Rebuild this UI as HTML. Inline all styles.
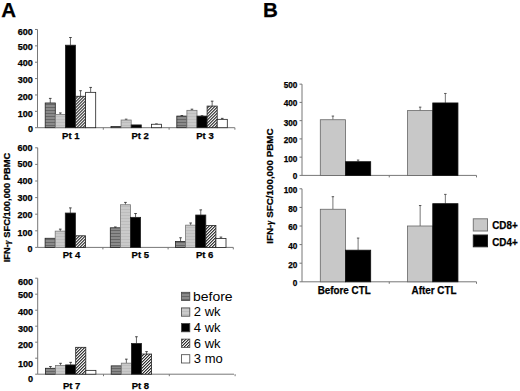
<!DOCTYPE html>
<html><head><meta charset="utf-8"><style>
html,body{margin:0;padding:0;background:#fff;}
svg{display:block;font-family:"Liberation Sans",sans-serif;}
text[font-weight="bold"]{stroke:#000;stroke-width:0.25px;}
</style></head><body>
<svg width="520" height="391" viewBox="0 0 520 391">
<defs>
<pattern id="pBefore" width="3" height="3" patternUnits="userSpaceOnUse">
<rect width="3" height="3" fill="#8a8a8a"/>
<rect y="2" width="3" height="1" fill="#666"/>
</pattern>
<pattern id="p2wk" width="3" height="3" patternUnits="userSpaceOnUse">
<rect width="3" height="3" fill="#cacaca"/>
<rect y="2" width="3" height="1" fill="#bdbdbd"/>
</pattern>
<pattern id="pHatch" width="2.12" height="2.12" patternUnits="userSpaceOnUse" patternTransform="rotate(45)">
<rect width="2.12" height="2.12" fill="#fff"/>
<rect width="0.9" height="2.12" fill="#000"/>
</pattern>
</defs>
<rect width="520" height="391" fill="#fff"/>
<text x="1.3" y="16.6" font-size="20.5" font-weight="bold">A</text>
<text x="263.0" y="16.8" font-size="20.5" font-weight="bold">B</text>
<line x1="37.5" y1="29.480000000000004" x2="37.5" y2="127.7" stroke="#777" stroke-width="1"/>
<line x1="35.0" y1="127.7" x2="37.5" y2="127.7" stroke="#777" stroke-width="1"/>
<text x="32.9" y="132.322" font-size="9" font-weight="bold" text-anchor="end">0</text>
<line x1="35.0" y1="111.33" x2="37.5" y2="111.33" stroke="#777" stroke-width="1"/>
<text x="32.9" y="116.52199999999999" font-size="9" font-weight="bold" text-anchor="end">100</text>
<line x1="35.0" y1="94.96000000000001" x2="37.5" y2="94.96000000000001" stroke="#777" stroke-width="1"/>
<text x="32.9" y="100.122" font-size="9" font-weight="bold" text-anchor="end">200</text>
<line x1="35.0" y1="78.59" x2="37.5" y2="78.59" stroke="#777" stroke-width="1"/>
<text x="32.9" y="83.222" font-size="9" font-weight="bold" text-anchor="end">300</text>
<line x1="35.0" y1="62.22" x2="37.5" y2="62.22" stroke="#777" stroke-width="1"/>
<text x="32.9" y="66.422" font-size="9" font-weight="bold" text-anchor="end">400</text>
<line x1="35.0" y1="45.849999999999994" x2="37.5" y2="45.849999999999994" stroke="#777" stroke-width="1"/>
<text x="32.9" y="49.922000000000004" font-size="9" font-weight="bold" text-anchor="end">500</text>
<line x1="35.0" y1="29.480000000000004" x2="37.5" y2="29.480000000000004" stroke="#777" stroke-width="1"/>
<text x="32.9" y="34.822" font-size="9" font-weight="bold" text-anchor="end">600</text>
<line x1="37.5" y1="127.7" x2="234.8" y2="127.7" stroke="#777" stroke-width="1"/>
<line x1="103.3" y1="127.7" x2="103.3" y2="129.7" stroke="#777" stroke-width="1"/>
<line x1="169.1" y1="127.7" x2="169.1" y2="129.7" stroke="#777" stroke-width="1"/>
<line x1="234.89999999999998" y1="127.7" x2="234.89999999999998" y2="129.7" stroke="#777" stroke-width="1"/>
<line x1="50.25" y1="98.3977" x2="50.25" y2="102.9813" stroke="#555" stroke-width="0.9"/>
<line x1="48.95" y1="98.3977" x2="51.55" y2="98.3977" stroke="#333" stroke-width="0.9"/>
<rect x="45.20" y="102.98" width="10.10" height="24.72" fill="url(#pBefore)" stroke="#222" stroke-width="0.8"/>
<line x1="60.35" y1="112.967" x2="60.35" y2="114.44030000000001" stroke="#555" stroke-width="0.9"/>
<line x1="59.050000000000004" y1="112.967" x2="61.65" y2="112.967" stroke="#333" stroke-width="0.9"/>
<rect x="55.30" y="114.44" width="10.10" height="13.26" fill="url(#p2wk)" stroke="#777" stroke-width="0.8"/>
<line x1="70.45" y1="37.5013" x2="70.45" y2="45.195199999999986" stroke="#555" stroke-width="0.9"/>
<line x1="69.15" y1="37.5013" x2="71.75" y2="37.5013" stroke="#333" stroke-width="0.9"/>
<rect x="65.40" y="45.20" width="10.10" height="82.50" fill="#000" stroke="#222" stroke-width="0.8"/>
<line x1="80.55" y1="90.7038" x2="80.55" y2="96.2696" stroke="#555" stroke-width="0.9"/>
<line x1="79.25" y1="90.7038" x2="81.85" y2="90.7038" stroke="#333" stroke-width="0.9"/>
<rect x="75.50" y="96.27" width="10.10" height="31.43" fill="url(#pHatch)" stroke="#222" stroke-width="0.8"/>
<line x1="90.64999999999999" y1="87.4298" x2="90.64999999999999" y2="92.3408" stroke="#555" stroke-width="0.9"/>
<line x1="89.35" y1="87.4298" x2="91.94999999999999" y2="87.4298" stroke="#333" stroke-width="0.9"/>
<rect x="85.60" y="92.34" width="10.10" height="35.36" fill="#fff" stroke="#222" stroke-width="0.8"/>
<rect x="111.00" y="126.55" width="10.10" height="1.15" fill="url(#pBefore)" stroke="#222" stroke-width="0.8"/>
<line x1="126.14999999999999" y1="119.1876" x2="126.14999999999999" y2="120.0061" stroke="#555" stroke-width="0.9"/>
<line x1="124.85" y1="119.1876" x2="127.44999999999999" y2="119.1876" stroke="#333" stroke-width="0.9"/>
<rect x="121.10" y="120.01" width="10.10" height="7.69" fill="url(#p2wk)" stroke="#777" stroke-width="0.8"/>
<rect x="131.20" y="124.92" width="10.10" height="2.78" fill="#000" stroke="#222" stroke-width="0.8"/>
<line x1="156.45000000000002" y1="123.9349" x2="156.45000000000002" y2="124.2623" stroke="#555" stroke-width="0.9"/>
<line x1="155.15" y1="123.9349" x2="157.75000000000003" y2="123.9349" stroke="#333" stroke-width="0.9"/>
<rect x="151.40" y="124.26" width="10.10" height="3.44" fill="#fff" stroke="#222" stroke-width="0.8"/>
<line x1="181.85" y1="115.5862" x2="181.85" y2="116.07730000000001" stroke="#555" stroke-width="0.9"/>
<line x1="180.54999999999998" y1="115.5862" x2="183.15" y2="115.5862" stroke="#333" stroke-width="0.9"/>
<rect x="176.80" y="116.08" width="10.10" height="11.62" fill="url(#pBefore)" stroke="#222" stroke-width="0.8"/>
<line x1="191.95" y1="109.2019" x2="191.95" y2="110.3478" stroke="#555" stroke-width="0.9"/>
<line x1="190.64999999999998" y1="109.2019" x2="193.25" y2="109.2019" stroke="#333" stroke-width="0.9"/>
<rect x="186.90" y="110.35" width="10.10" height="17.35" fill="url(#p2wk)" stroke="#777" stroke-width="0.8"/>
<line x1="202.04999999999998" y1="115.7499" x2="202.04999999999998" y2="116.07730000000001" stroke="#555" stroke-width="0.9"/>
<line x1="200.74999999999997" y1="115.7499" x2="203.35" y2="115.7499" stroke="#333" stroke-width="0.9"/>
<rect x="197.00" y="116.08" width="10.10" height="11.62" fill="#000" stroke="#222" stroke-width="0.8"/>
<line x1="212.14999999999998" y1="101.1806" x2="212.14999999999998" y2="106.0916" stroke="#555" stroke-width="0.9"/>
<line x1="210.84999999999997" y1="101.1806" x2="213.45" y2="101.1806" stroke="#333" stroke-width="0.9"/>
<rect x="207.10" y="106.09" width="10.10" height="21.61" fill="url(#pHatch)" stroke="#222" stroke-width="0.8"/>
<line x1="222.25" y1="118.3691" x2="222.25" y2="119.35130000000001" stroke="#555" stroke-width="0.9"/>
<line x1="220.95" y1="118.3691" x2="223.55" y2="118.3691" stroke="#333" stroke-width="0.9"/>
<rect x="217.20" y="119.35" width="10.10" height="8.35" fill="#fff" stroke="#222" stroke-width="0.8"/>
<text x="70.8" y="138.8" font-size="9.5" font-weight="bold" text-anchor="middle">Pt 1</text>
<text x="140.2" y="138.8" font-size="9.5" font-weight="bold" text-anchor="middle">Pt 2</text>
<text x="205" y="138.8" font-size="9.5" font-weight="bold" text-anchor="middle">Pt 3</text>
<line x1="37.7" y1="147.8" x2="37.7" y2="247.4" stroke="#777" stroke-width="1"/>
<line x1="35.2" y1="247.4" x2="37.7" y2="247.4" stroke="#777" stroke-width="1"/>
<text x="32.6" y="251.52200000000002" font-size="9" font-weight="bold" text-anchor="end">0</text>
<line x1="35.2" y1="230.8" x2="37.7" y2="230.8" stroke="#777" stroke-width="1"/>
<text x="32.6" y="235.822" font-size="9" font-weight="bold" text-anchor="end">100</text>
<line x1="35.2" y1="214.2" x2="37.7" y2="214.2" stroke="#777" stroke-width="1"/>
<text x="32.6" y="217.822" font-size="9" font-weight="bold" text-anchor="end">200</text>
<line x1="35.2" y1="197.60000000000002" x2="37.7" y2="197.60000000000002" stroke="#777" stroke-width="1"/>
<text x="32.6" y="200.722" font-size="9" font-weight="bold" text-anchor="end">300</text>
<line x1="35.2" y1="181.0" x2="37.7" y2="181.0" stroke="#777" stroke-width="1"/>
<text x="32.6" y="183.922" font-size="9" font-weight="bold" text-anchor="end">400</text>
<line x1="35.2" y1="164.4" x2="37.7" y2="164.4" stroke="#777" stroke-width="1"/>
<text x="32.6" y="166.622" font-size="9" font-weight="bold" text-anchor="end">500</text>
<line x1="35.2" y1="147.8" x2="37.7" y2="147.8" stroke="#777" stroke-width="1"/>
<text x="32.6" y="151.02200000000002" font-size="9" font-weight="bold" text-anchor="end">600</text>
<line x1="37.7" y1="247.4" x2="233.3" y2="247.4" stroke="#777" stroke-width="1"/>
<line x1="102.9" y1="247.4" x2="102.9" y2="249.4" stroke="#777" stroke-width="1"/>
<line x1="168.10000000000002" y1="247.4" x2="168.10000000000002" y2="249.4" stroke="#777" stroke-width="1"/>
<line x1="233.3" y1="247.4" x2="233.3" y2="249.4" stroke="#777" stroke-width="1"/>
<rect x="45.10" y="238.27" width="10.10" height="9.13" fill="url(#pBefore)" stroke="#222" stroke-width="0.8"/>
<line x1="60.25" y1="229.14000000000001" x2="60.25" y2="231.132" stroke="#555" stroke-width="0.9"/>
<line x1="58.95" y1="229.14000000000001" x2="61.55" y2="229.14000000000001" stroke="#333" stroke-width="0.9"/>
<rect x="55.20" y="231.13" width="10.10" height="16.27" fill="url(#p2wk)" stroke="#777" stroke-width="0.8"/>
<line x1="70.35" y1="207.892" x2="70.35" y2="213.038" stroke="#555" stroke-width="0.9"/>
<line x1="69.05" y1="207.892" x2="71.64999999999999" y2="207.892" stroke="#333" stroke-width="0.9"/>
<rect x="65.30" y="213.04" width="10.10" height="34.36" fill="#000" stroke="#222" stroke-width="0.8"/>
<rect x="75.40" y="235.78" width="10.10" height="11.62" fill="url(#pHatch)" stroke="#222" stroke-width="0.8"/>
<line x1="115.35000000000001" y1="226.982" x2="115.35000000000001" y2="227.812" stroke="#555" stroke-width="0.9"/>
<line x1="114.05000000000001" y1="226.982" x2="116.65" y2="226.982" stroke="#333" stroke-width="0.9"/>
<rect x="110.30" y="227.81" width="10.10" height="19.59" fill="url(#pBefore)" stroke="#222" stroke-width="0.8"/>
<line x1="125.45" y1="202.414" x2="125.45" y2="204.738" stroke="#555" stroke-width="0.9"/>
<line x1="124.15" y1="202.414" x2="126.75" y2="202.414" stroke="#333" stroke-width="0.9"/>
<rect x="120.40" y="204.74" width="10.10" height="42.66" fill="url(#p2wk)" stroke="#777" stroke-width="0.8"/>
<line x1="135.55" y1="213.536" x2="135.55" y2="217.354" stroke="#555" stroke-width="0.9"/>
<line x1="134.25" y1="213.536" x2="136.85000000000002" y2="213.536" stroke="#333" stroke-width="0.9"/>
<rect x="130.50" y="217.35" width="10.10" height="30.05" fill="#000" stroke="#222" stroke-width="0.8"/>
<line x1="180.55000000000004" y1="237.772" x2="180.55000000000004" y2="241.424" stroke="#555" stroke-width="0.9"/>
<line x1="179.25000000000003" y1="237.772" x2="181.85000000000005" y2="237.772" stroke="#333" stroke-width="0.9"/>
<rect x="175.50" y="241.42" width="10.10" height="5.98" fill="url(#pBefore)" stroke="#222" stroke-width="0.8"/>
<line x1="190.65000000000003" y1="222.998" x2="190.65000000000003" y2="225.156" stroke="#555" stroke-width="0.9"/>
<line x1="189.35000000000002" y1="222.998" x2="191.95000000000005" y2="222.998" stroke="#333" stroke-width="0.9"/>
<rect x="185.60" y="225.16" width="10.10" height="22.24" fill="url(#p2wk)" stroke="#777" stroke-width="0.8"/>
<line x1="200.75000000000003" y1="209.88400000000001" x2="200.75000000000003" y2="215.03" stroke="#555" stroke-width="0.9"/>
<line x1="199.45000000000002" y1="209.88400000000001" x2="202.05000000000004" y2="209.88400000000001" stroke="#333" stroke-width="0.9"/>
<rect x="195.70" y="215.03" width="10.10" height="32.37" fill="#000" stroke="#222" stroke-width="0.8"/>
<rect x="205.80" y="225.49" width="10.10" height="21.91" fill="url(#pHatch)" stroke="#222" stroke-width="0.8"/>
<line x1="220.95000000000005" y1="237.108" x2="220.95000000000005" y2="238.436" stroke="#555" stroke-width="0.9"/>
<line x1="219.65000000000003" y1="237.108" x2="222.25000000000006" y2="237.108" stroke="#333" stroke-width="0.9"/>
<rect x="215.90" y="238.44" width="10.10" height="8.96" fill="#fff" stroke="#222" stroke-width="0.8"/>
<text x="71.5" y="258.3" font-size="9.5" font-weight="bold" text-anchor="middle">Pt 4</text>
<text x="140.3" y="258.3" font-size="9.5" font-weight="bold" text-anchor="middle">Pt 5</text>
<text x="204.6" y="258.3" font-size="9.5" font-weight="bold" text-anchor="middle">Pt 6</text>
<line x1="37.7" y1="278.2" x2="37.7" y2="374.2" stroke="#777" stroke-width="1"/>
<line x1="35.2" y1="374.2" x2="37.7" y2="374.2" stroke="#777" stroke-width="1"/>
<text x="33.1" y="381.7578" font-size="9.1" font-weight="bold" text-anchor="end">0</text>
<line x1="35.2" y1="358.2" x2="37.7" y2="358.2" stroke="#777" stroke-width="1"/>
<text x="33.1" y="366.8578" font-size="9.1" font-weight="bold" text-anchor="end">100</text>
<line x1="35.2" y1="342.2" x2="37.7" y2="342.2" stroke="#777" stroke-width="1"/>
<text x="33.1" y="348.2578" font-size="9.1" font-weight="bold" text-anchor="end">200</text>
<line x1="35.2" y1="326.2" x2="37.7" y2="326.2" stroke="#777" stroke-width="1"/>
<text x="33.1" y="332.0578" font-size="9.1" font-weight="bold" text-anchor="end">300</text>
<line x1="35.2" y1="310.2" x2="37.7" y2="310.2" stroke="#777" stroke-width="1"/>
<text x="33.1" y="315.0578" font-size="9.1" font-weight="bold" text-anchor="end">400</text>
<line x1="35.2" y1="294.2" x2="37.7" y2="294.2" stroke="#777" stroke-width="1"/>
<text x="33.1" y="297.7578" font-size="9.1" font-weight="bold" text-anchor="end">500</text>
<line x1="35.2" y1="278.2" x2="37.7" y2="278.2" stroke="#777" stroke-width="1"/>
<text x="33.1" y="284.65779999999995" font-size="9.1" font-weight="bold" text-anchor="end">600</text>
<line x1="37.7" y1="374.2" x2="234" y2="374.2" stroke="#777" stroke-width="1"/>
<line x1="103.5" y1="374.2" x2="103.5" y2="376.2" stroke="#777" stroke-width="1"/>
<line x1="169.3" y1="374.2" x2="169.3" y2="376.2" stroke="#777" stroke-width="1"/>
<line x1="235.09999999999997" y1="374.2" x2="235.09999999999997" y2="376.2" stroke="#777" stroke-width="1"/>
<line x1="50.45" y1="366.52" x2="50.45" y2="368.28" stroke="#555" stroke-width="0.9"/>
<line x1="49.150000000000006" y1="366.52" x2="51.75" y2="366.52" stroke="#333" stroke-width="0.9"/>
<rect x="45.40" y="368.28" width="10.10" height="5.92" fill="url(#pBefore)" stroke="#222" stroke-width="0.8"/>
<line x1="60.550000000000004" y1="363.32" x2="60.550000000000004" y2="365.56" stroke="#555" stroke-width="0.9"/>
<line x1="59.25000000000001" y1="363.32" x2="61.85" y2="363.32" stroke="#333" stroke-width="0.9"/>
<rect x="55.50" y="365.56" width="10.10" height="8.64" fill="url(#p2wk)" stroke="#777" stroke-width="0.8"/>
<line x1="70.65" y1="362.36" x2="70.65" y2="364.92" stroke="#555" stroke-width="0.9"/>
<line x1="69.35000000000001" y1="362.36" x2="71.95" y2="362.36" stroke="#333" stroke-width="0.9"/>
<rect x="65.60" y="364.92" width="10.10" height="9.28" fill="#000" stroke="#222" stroke-width="0.8"/>
<rect x="75.70" y="347.32" width="10.10" height="26.88" fill="url(#pHatch)" stroke="#222" stroke-width="0.8"/>
<rect x="85.80" y="370.36" width="10.10" height="3.84" fill="#fff" stroke="#222" stroke-width="0.8"/>
<rect x="111.20" y="365.88" width="10.10" height="8.32" fill="url(#pBefore)" stroke="#222" stroke-width="0.8"/>
<line x1="126.35" y1="359.15999999999997" x2="126.35" y2="363.15999999999997" stroke="#555" stroke-width="0.9"/>
<line x1="125.05" y1="359.15999999999997" x2="127.64999999999999" y2="359.15999999999997" stroke="#333" stroke-width="0.9"/>
<rect x="121.30" y="363.16" width="10.10" height="11.04" fill="url(#p2wk)" stroke="#777" stroke-width="0.8"/>
<line x1="136.45000000000002" y1="336.76" x2="136.45000000000002" y2="343.48" stroke="#555" stroke-width="0.9"/>
<line x1="135.15" y1="336.76" x2="137.75000000000003" y2="336.76" stroke="#333" stroke-width="0.9"/>
<rect x="131.40" y="343.48" width="10.10" height="30.72" fill="#000" stroke="#222" stroke-width="0.8"/>
<line x1="146.55" y1="351.64" x2="146.55" y2="354.03999999999996" stroke="#555" stroke-width="0.9"/>
<line x1="145.25" y1="351.64" x2="147.85000000000002" y2="351.64" stroke="#333" stroke-width="0.9"/>
<rect x="141.50" y="354.04" width="10.10" height="20.16" fill="url(#pHatch)" stroke="#222" stroke-width="0.8"/>
<text x="71.7" y="389" font-size="9.5" font-weight="bold" text-anchor="middle">Pt 7</text>
<text x="140.4" y="389" font-size="9.5" font-weight="bold" text-anchor="middle">Pt 8</text>
<rect x="181.50" y="292.30" width="8.30" height="8.30" fill="url(#pBefore)" stroke="#444" stroke-width="0.8"/>
<text x="193.0" y="300.5" font-size="13.2" textLength="39.6" lengthAdjust="spacingAndGlyphs">before</text>
<rect x="181.50" y="307.90" width="8.30" height="8.30" fill="url(#p2wk)" stroke="#444" stroke-width="0.8"/>
<text x="193.8" y="316.3" font-size="13">2 wk</text>
<rect x="181.50" y="323.50" width="8.30" height="8.30" fill="#000" stroke="#444" stroke-width="0.8"/>
<text x="193.8" y="331.9" font-size="13">4 wk</text>
<rect x="181.50" y="339.10" width="8.30" height="8.30" fill="url(#pHatch)" stroke="#444" stroke-width="0.8"/>
<text x="193.8" y="347.5" font-size="13">6 wk</text>
<rect x="181.50" y="354.70" width="8.30" height="8.30" fill="#fff" stroke="#444" stroke-width="0.8"/>
<text x="193.8" y="363.09999999999997" font-size="13">3 mo</text>
<text transform="translate(10.1,262.3) rotate(-90)" font-size="9.2" font-weight="bold" textLength="109.5" lengthAdjust="spacingAndGlyphs">IFN-<tspan font-family="Liberation Serif" font-style="italic">γ</tspan> SFC/100,000 PBMC</text>
<line x1="302" y1="84.15" x2="302" y2="175.4" stroke="#777" stroke-width="1"/>
<line x1="299.5" y1="175.4" x2="302" y2="175.4" stroke="#777" stroke-width="1"/>
<text x="297.4" y="179.4" font-size="8.2" font-weight="bold" text-anchor="end">0</text>
<line x1="299.5" y1="157.15" x2="302" y2="157.15" stroke="#777" stroke-width="1"/>
<text x="297.4" y="162.20000000000002" font-size="8.2" font-weight="bold" text-anchor="end">100</text>
<line x1="299.5" y1="138.9" x2="302" y2="138.9" stroke="#777" stroke-width="1"/>
<text x="297.4" y="142.9" font-size="8.2" font-weight="bold" text-anchor="end">200</text>
<line x1="299.5" y1="120.65" x2="302" y2="120.65" stroke="#777" stroke-width="1"/>
<text x="297.4" y="126.0" font-size="8.2" font-weight="bold" text-anchor="end">300</text>
<line x1="299.5" y1="102.4" x2="302" y2="102.4" stroke="#777" stroke-width="1"/>
<text x="297.4" y="106.2" font-size="8.2" font-weight="bold" text-anchor="end">400</text>
<line x1="299.5" y1="84.15" x2="302" y2="84.15" stroke="#777" stroke-width="1"/>
<text x="297.4" y="87.80000000000001" font-size="8.2" font-weight="bold" text-anchor="end">500</text>
<line x1="302" y1="188.8" x2="302" y2="281.8" stroke="#777" stroke-width="1"/>
<line x1="299.5" y1="281.8" x2="302" y2="281.8" stroke="#777" stroke-width="1"/>
<text x="297.4" y="285.7" font-size="8.2" font-weight="bold" text-anchor="end">0</text>
<line x1="299.5" y1="263.2" x2="302" y2="263.2" stroke="#777" stroke-width="1"/>
<text x="297.4" y="268.09999999999997" font-size="8.2" font-weight="bold" text-anchor="end">20</text>
<line x1="299.5" y1="244.60000000000002" x2="302" y2="244.60000000000002" stroke="#777" stroke-width="1"/>
<text x="297.4" y="248.70000000000002" font-size="8.2" font-weight="bold" text-anchor="end">40</text>
<line x1="299.5" y1="226.0" x2="302" y2="226.0" stroke="#777" stroke-width="1"/>
<text x="297.4" y="230.4" font-size="8.2" font-weight="bold" text-anchor="end">60</text>
<line x1="299.5" y1="207.4" x2="302" y2="207.4" stroke="#777" stroke-width="1"/>
<text x="297.4" y="211.6" font-size="8.2" font-weight="bold" text-anchor="end">80</text>
<line x1="299.5" y1="188.8" x2="302" y2="188.8" stroke="#777" stroke-width="1"/>
<text x="297.4" y="193.4" font-size="8.2" font-weight="bold" text-anchor="end">100</text>
<line x1="302" y1="175.4" x2="476.5" y2="175.4" stroke="#777" stroke-width="1"/>
<line x1="389.25" y1="175.4" x2="389.25" y2="177.4" stroke="#777" stroke-width="1"/>
<line x1="476.5" y1="175.4" x2="476.5" y2="177.4" stroke="#777" stroke-width="1"/>
<line x1="332.90000000000003" y1="116.0875" x2="332.90000000000003" y2="119.73750000000001" stroke="#777" stroke-width="1"/>
<line x1="331.70000000000005" y1="116.0875" x2="334.1" y2="116.0875" stroke="#555" stroke-width="1"/>
<rect x="320.30" y="119.74" width="25.20" height="55.66" fill="#c8c8c8" stroke="#666" stroke-width="0.8"/>
<line x1="358.1" y1="160.07" x2="358.1" y2="161.7125" stroke="#777" stroke-width="1"/>
<line x1="356.90000000000003" y1="160.07" x2="359.3" y2="160.07" stroke="#555" stroke-width="1"/>
<rect x="345.50" y="161.71" width="25.20" height="13.69" fill="#000" stroke="#111" stroke-width="0.8"/>
<line x1="420.15000000000003" y1="107.14500000000001" x2="420.15000000000003" y2="110.61250000000001" stroke="#777" stroke-width="1"/>
<line x1="418.95000000000005" y1="107.14500000000001" x2="421.35" y2="107.14500000000001" stroke="#555" stroke-width="1"/>
<rect x="407.55" y="110.61" width="25.20" height="64.79" fill="#c8c8c8" stroke="#666" stroke-width="0.8"/>
<line x1="445.35" y1="93.45750000000001" x2="445.35" y2="102.9475" stroke="#777" stroke-width="1"/>
<line x1="444.15000000000003" y1="93.45750000000001" x2="446.55" y2="93.45750000000001" stroke="#555" stroke-width="1"/>
<rect x="432.75" y="102.95" width="25.20" height="72.45" fill="#000" stroke="#111" stroke-width="0.8"/>
<line x1="302" y1="281.8" x2="476.5" y2="281.8" stroke="#777" stroke-width="1"/>
<line x1="389.25" y1="281.8" x2="389.25" y2="283.8" stroke="#777" stroke-width="1"/>
<line x1="476.5" y1="281.8" x2="476.5" y2="283.8" stroke="#777" stroke-width="1"/>
<line x1="332.90000000000003" y1="196.705" x2="332.90000000000003" y2="209.26" stroke="#777" stroke-width="1"/>
<line x1="331.70000000000005" y1="196.705" x2="334.1" y2="196.705" stroke="#555" stroke-width="1"/>
<rect x="320.30" y="209.26" width="25.20" height="72.54" fill="#c8c8c8" stroke="#666" stroke-width="0.8"/>
<line x1="358.1" y1="238.09" x2="358.1" y2="250.18" stroke="#777" stroke-width="1"/>
<line x1="356.90000000000003" y1="238.09" x2="359.3" y2="238.09" stroke="#555" stroke-width="1"/>
<rect x="345.50" y="250.18" width="25.20" height="31.62" fill="#000" stroke="#111" stroke-width="0.8"/>
<line x1="420.15000000000003" y1="205.54000000000002" x2="420.15000000000003" y2="226.0" stroke="#777" stroke-width="1"/>
<line x1="418.95000000000005" y1="205.54000000000002" x2="421.35" y2="205.54000000000002" stroke="#555" stroke-width="1"/>
<rect x="407.55" y="226.00" width="25.20" height="55.80" fill="#c8c8c8" stroke="#666" stroke-width="0.8"/>
<line x1="445.35" y1="194.38" x2="445.35" y2="203.68" stroke="#777" stroke-width="1"/>
<line x1="444.15000000000003" y1="194.38" x2="446.55" y2="194.38" stroke="#555" stroke-width="1"/>
<rect x="432.75" y="203.68" width="25.20" height="78.12" fill="#000" stroke="#111" stroke-width="0.8"/>
<text x="344.2" y="294" font-size="10" font-weight="bold" text-anchor="middle" textLength="53" lengthAdjust="spacingAndGlyphs">Before CTL</text>
<text x="434" y="294" font-size="10" font-weight="bold" text-anchor="middle" textLength="45" lengthAdjust="spacingAndGlyphs">After CTL</text>
<rect x="473.30" y="218.80" width="14.20" height="12.20" fill="#c8c8c8" stroke="#777" stroke-width="1"/>
<rect x="473.30" y="235.00" width="14.20" height="11.80" fill="#000" stroke="#222" stroke-width="1"/>
<text x="492.2" y="229.0" font-size="10" font-weight="bold" textLength="25.5" lengthAdjust="spacingAndGlyphs">CD8+</text>
<text x="492.2" y="245.9" font-size="10" font-weight="bold" textLength="25.5" lengthAdjust="spacingAndGlyphs">CD4+</text>
<text transform="translate(273,243.7) rotate(-90)" font-size="9.8" font-weight="bold" textLength="115.3" lengthAdjust="spacingAndGlyphs">IFN-<tspan font-family="Liberation Serif" font-style="italic">γ</tspan> SFC/100,000 PBMC</text>
</svg>
</body></html>
